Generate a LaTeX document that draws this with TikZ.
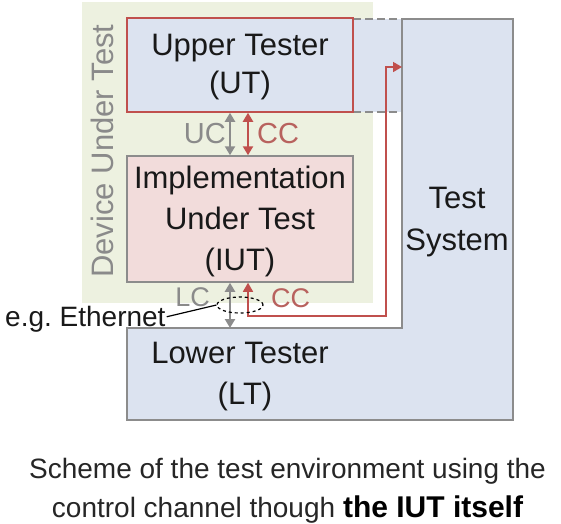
\documentclass[tikz,border=0pt]{standalone}
\usepackage{fontspec}
\setmainfont{Liberation Sans}
\usetikzlibrary{arrows.meta,shapes.geometric}
\definecolor{dutgreen}{HTML}{EDF1E0}
\definecolor{tsblue}{HTML}{DCE3F0}
\definecolor{iutpink}{HTML}{F2DCDB}
\definecolor{redb}{HTML}{C0504D}
\definecolor{redtxt}{HTML}{B8625E}
\definecolor{grayb}{HTML}{8C8C8C}
\definecolor{graytxt}{HTML}{8A8A8A}
\definecolor{captxt}{HTML}{262626}
\tikzset{
  boxtext/.style={anchor=base, font=\fontsize{31}{36}\selectfont, text=black!90, inner sep=0pt},
  lbltext/.style={font=\fontsize{29}{32}\selectfont, inner sep=0pt},
  smalllbl/.style={font=\fontsize{27}{30}\selectfont, inner sep=0pt},
  utbox/.style={draw=redb, line width=1.5pt, fill=tsblue, minimum width=226, minimum height=94, inner sep=0pt},
  iutbox/.style={draw=grayb, line width=1.5pt, fill=iutpink, minimum width=226, minimum height=126, inner sep=0pt},
  dutbox/.style={fill=dutgreen, minimum width=291, minimum height=301, inner sep=0pt},
  garrow/.style={draw=grayb, line width=2.6pt, {Triangle[length=9pt,width=10pt]}-{Triangle[length=9pt,width=10pt]}},
  rarrow/.style={draw=redb, line width=2.6pt, {Triangle[length=9pt,width=10pt]}-{Triangle[length=9pt,width=10pt]}},
  rpath/.style={draw=redb, line width=1.6pt, {Triangle[length=9pt,width=10pt]}-{Triangle[length=9pt,width=10pt]}},
  tsline/.style={draw=grayb, line width=1.8pt},
}
\begin{document}
\begin{tikzpicture}[x=1pt,y=-1pt]
\useasboundingbox (0,0) rectangle (561,523);
\fill[white] (0,0) rectangle (561,523);

% Device Under Test background
\node[dutbox] (dut) at (227.5,152.5) {};
\node[rotate=90, anchor=base, font=\fontsize{31}{36}\selectfont, text=graytxt, inner sep=0pt] (dutlbl) at (113,151) {Device Under Test};

% Test System + Lower Tester (L-shaped)
\draw[tsline, fill=tsblue, line join=miter] (127,328) -- (402,328) -- (402,19) -- (513,19) -- (513,420) -- (127,420) -- cycle;
% dashed extension of UT
\fill[tsblue] (353,19) rectangle (401,112);
\draw[grayb, line width=1.5pt, dashed, dash pattern=on 8pt off 4pt] (353,19) -- (402,19);
\draw[grayb, line width=1.5pt, dashed, dash pattern=on 8pt off 4pt] (353,112) -- (402,112);

% Upper Tester
\node[utbox] (ut) at (240,65) {};
\node[boxtext] (utl1) at (240,55) {Upper Tester};
\node[boxtext] (utl2) at (240,93) {(UT)};

% IUT
\node[iutbox] (iut) at (240,219) {};
\node[boxtext] (iutl1) at (240,188) {Implementation};
\node[boxtext] (iutl2) at (240,229) {Under Test};
\node[boxtext] (iutl3) at (240,270) {(IUT)};

% Lower Tester text
\node[boxtext] (ltl1) at (240,363) {Lower Tester};
\node[boxtext] (ltl2) at (245,404) {(LT)};

% Test System text
\node[boxtext] (tsl1) at (457,208) {Test};
\node[boxtext] (tsl2) at (457,250) {System};

% UT <-> IUT channels
\draw[garrow] ([xshift=-10pt]ut.south) -- ([xshift=-10pt]iut.north);
\draw[rarrow] ([xshift=8pt]ut.south) -- ([xshift=8pt]iut.north);
\node[lbltext, text=graytxt, anchor=base east] (uc) at (226,143) {UC};
\node[lbltext, text=redtxt, anchor=base west] (cc1) at (257,143) {CC};

% IUT <-> LT channels
\coordinate (lttop) at (230,328);
\draw[garrow] ([xshift=-10pt]iut.south) -- (lttop);
\coordinate (r1) at (248,316);
\coordinate (r2) at (386,316);
\coordinate (r3) at (386,67);
\coordinate (tsin) at (402,67);
\draw[rpath, line join=miter] ([xshift=8pt]iut.south) -- (r1) -- (r2) -- (r3) -- (tsin);
\node[smalllbl, text=graytxt, anchor=base east] (lc) at (210,306) {LC};
\node[smalllbl, text=redtxt, anchor=base west] (cc2) at (271,307) {CC};

% Ethernet
\node[ellipse, draw=black, dashed, line width=1.2pt, minimum width=46, minimum height=16, inner sep=0pt] (eth) at (240,305) {};
\node[anchor=base west, font=\fontsize{28}{32}\selectfont, text=black!90, inner sep=0pt] (ethlbl) at (5,326) {e.g.\ Ethernet};
\draw[black, line width=1.2pt] ([xshift=1pt,yshift=2pt]ethlbl.east) -- (eth.west);

% Caption
\node[anchor=base, font=\fontsize{28}{32}\selectfont, text=captxt, inner sep=0pt] (cap1) at (287.5,478) {Scheme of the test environment using the};
\node[anchor=base, font=\fontsize{28}{32}\selectfont, text=captxt, inner sep=0pt] (cap2) at (287.5,517) {control channel though {\fontsize{30}{34}\selectfont\bfseries\color{black}the IUT itself}};
\end{tikzpicture}
\end{document}
